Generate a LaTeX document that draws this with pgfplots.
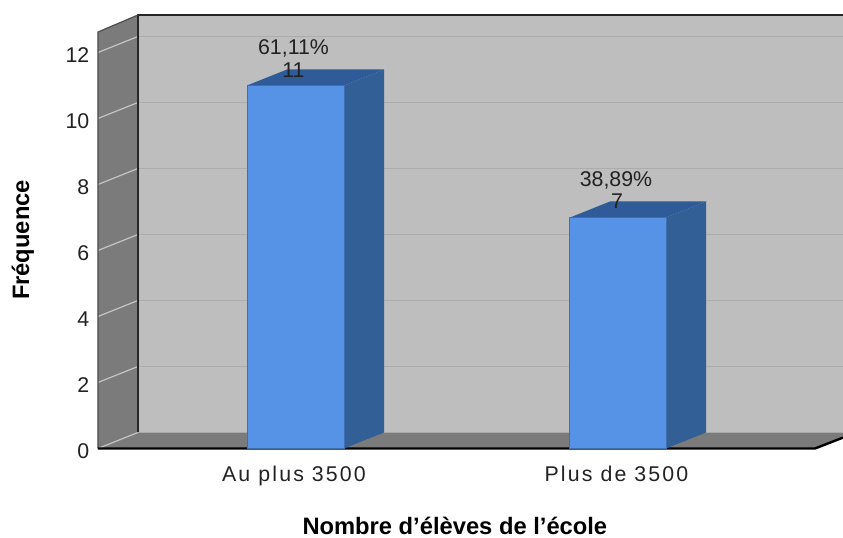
\documentclass[border=0pt]{standalone}
\usepackage{fontspec}
\setmainfont{Liberation Sans}
\usepackage{pgfplots}
\pgfplotsset{compat=1.18}
% x is in picture pixels, y in frequency; the 3D depth is (+40, +0.485)
\definecolor{wallgray}{HTML}{7B7B7B}
\definecolor{backgray}{HTML}{BEBEBE}
\definecolor{gridback}{HTML}{ACACAC}
\definecolor{gridwall}{HTML}{C4C4C4}
\definecolor{barfront}{HTML}{5693E6}
\definecolor{barside}{HTML}{335F97}
\definecolor{bartop}{HTML}{2F5C98}
\definecolor{baredge}{HTML}{3F6FAE}
\definecolor{txt}{HTML}{222222}
\newcommand{\ticksize}{\fontsize{16}{18}\selectfont}
\newcommand{\labsize}{\fontsize{17.8}{19}\selectfont\bfseries}
\begin{document}
\begin{tikzpicture}[x=0.75pt,y=0.75pt]
\useasboundingbox (-98,-89.5) rectangle (745,448.5);
\begin{axis}[
    at={(0,0)},
    anchor=south west,
    scale only axis,
    width=558.75pt,
    height=325.125pt,
    xmin=98, xmax=843,
    ymin=0, ymax=13.136,
    clip=false,
    axis line style={draw=none},
    tick style={draw=none},
    ytick={0,2,4,6,8,10,12},
    xtick={294,616.5},
    xticklabels={Au plus 3500,Plus de 3500},
    /pgf/number format/assume math mode=true,
    yticklabel style={font=\ticksize,text=txt,xshift=-3pt,yshift=-1.8pt},
    xticklabel style={font=\ticksize\addfontfeature{LetterSpace=10},text=txt,yshift=-9.5pt},
    xlabel={Nombre d’élèves de l’école},
    ylabel={Fréquence},
    xlabel style={font=\labsize,text=black,inner sep=0pt,at={(rel axis cs:0.479,-0.179)},anchor=center},
    ylabel style={font=\labsize,text=black,at={(rel axis cs:-0.1007,0.481)},anchor=center},
]
% back plane, left wall, floor
\addplot[fill=backgray,draw=none] coordinates {(138,0.485) (843,0.485) (843,13.136) (138,13.136)} -- cycle;
\addplot[fill=wallgray,draw=none] coordinates {(98,0) (138,0.485) (138,13.136) (98,12.62)} -- cycle;
\addplot[fill=wallgray,draw=none] coordinates {(98,0) (815,0) (843,0.33) (843,0.485) (138,0.485)} -- cycle;
% grid lines
\addplot[gridback,line width=0.9pt,unbounded coords=jump] coordinates {
    (138,2.485) (843,2.485) (nan,nan)
    (138,4.485) (843,4.485) (nan,nan)
    (138,6.485) (843,6.485) (nan,nan)
    (138,8.485) (843,8.485) (nan,nan)
    (138,10.485) (843,10.485) (nan,nan)
    (138,12.485) (843,12.485)
};
\addplot[gridwall,line width=0.9pt,unbounded coords=jump] coordinates {
    (98,0) (138,0.485) (nan,nan)
    (98,2) (138,2.485) (nan,nan)
    (98,4) (138,4.485) (nan,nan)
    (98,6) (138,6.485) (nan,nan)
    (98,8) (138,8.485) (nan,nan)
    (98,10) (138,10.485) (nan,nan)
    (98,12) (138,12.485)
};
% frame
\addplot[black!85,line width=1.8pt] coordinates {(138,0.485) (138,13.136) (843,13.136)};
\addplot[black!70,line width=0.9pt] coordinates {(98,0) (98,12.62) (138,13.136)};
\addplot[black,line width=1.8pt] coordinates {(98,0) (815,0) (843,0.33)};
% bars
\addplot[fill=barside,draw=none] coordinates {(344,0) (384,0.485) (384,11.485) (344,11)} -- cycle;
\addplot[fill=bartop,draw=none] coordinates {(247,11) (344,11) (384,11.485) (287,11.485)} -- cycle;
\addplot[fill=barside,draw=none] coordinates {(666,0) (706,0.485) (706,7.485) (666,7)} -- cycle;
\addplot[fill=bartop,draw=none] coordinates {(570,7) (666,7) (706,7.485) (610,7.485)} -- cycle;
\addplot[ybar,bar width=97,bar shift=0pt,fill=barfront,draw=baredge,line width=0.5pt] coordinates {(295.5,11) (618,7)};
% value labels
\node[font=\ticksize,text=txt] at (axis cs:293.5,12.13) {61,11\%};
\node[font=\ticksize,text=txt] at (axis cs:293.5,11.46) {11};
\node[font=\ticksize,text=txt] at (axis cs:616,8.13) {38,89\%};
\node[font=\ticksize,text=txt] at (axis cs:617,7.49) {7};
\end{axis}
\end{tikzpicture}
\end{document}
